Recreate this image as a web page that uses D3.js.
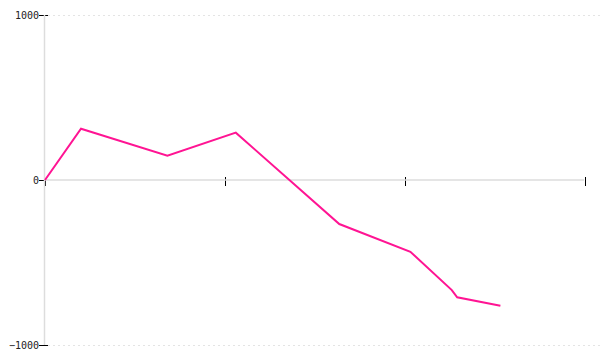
<!DOCTYPE html>
<html>
<head>
<meta charset="utf-8">
<script src="https://cdn.jsdelivr.net/npm/d3@7"></script>
<style>
  body { margin: 0; background: #fff; }
  svg { display: block; }
</style>
</head>
<body>
<svg id="chart" width="600" height="360"></svg>
<script>
// series
const xValues = [0, 0.2, 0.68, 1.06, 1.635, 2.03, 2.26, 2.29, 2.53];
const yValues = [0, 311, 147, 287, -267, -435, -667, -711, -762];
const xTicks = [0, 1, 2, 3];
const yTicks = [-1000, 0, 1000];

const width = 600;
const height = 360;
const margin = { top: 15, right: 15, bottom: 15, left: 45 };

const svg = d3.select('#chart');

const x = d3.scaleLinear().domain([0, 3]).range([margin.left, width - margin.right]);
const y = d3.scaleLinear().domain([-1000, 1000]).range([height - margin.bottom, margin.top]);

// y axis ticks and labels
const yAxis = svg.append('g')
  .attr('transform', `translate(${margin.left},0)`)
  .call(d3.axisLeft(y).tickValues(yTicks).tickFormat(d3.format('d')).tickSize(6).tickPadding(0));
yAxis.select('.domain').remove();
yAxis.selectAll('.tick line').attr('x1', d => d === 0 ? 0 : 3).attr('stroke', '#000');
yAxis.selectAll('.tick text')
  .attr('font-family', 'DejaVu Sans Mono')
  .attr('font-size', 10)
  .attr('fill', '#222');

// x axis ticks, no labels
const xAxis = svg.append('g')
  .attr('transform', `translate(0,${y(0)})`)
  .call(d3.axisBottom(x).tickValues(xTicks).tickSize(6).tickFormat(''));
xAxis.select('.domain').remove();
xAxis.selectAll('.tick line').attr('y1', d => d === 0 ? 0 : -3).attr('stroke', '#000');

// dotted grid at the extremes
svg.selectAll('.grid')
  .data([-1000, 1000])
  .join('line')
  .attr('x1', margin.left + 3)
  .attr('x2', width)
  .attr('y1', d => y(d) + 0.5)
  .attr('y2', d => y(d) + 0.5)
  .attr('stroke', '#e4e4e4')
  .attr('stroke-dasharray', '2,3');

// zero line and y axis line
svg.append('line')
  .attr('x1', margin.left)
  .attr('x2', width - margin.right - 1)
  .attr('y1', y(0))
  .attr('y2', y(0))
  .attr('stroke', '#ddd')
  .attr('stroke-width', 1.5);

svg.append('line')
  .attr('x1', margin.left - 0.5)
  .attr('x2', margin.left - 0.5)
  .attr('y1', y(1000))
  .attr('y2', y(-1000))
  .attr('stroke', '#ddd')
  .attr('stroke-width', 1.5);

// data line
const line = d3.line()
  .x((d, i) => x(xValues[i]))
  .y(d => y(d));

svg.append('path')
  .datum(yValues)
  .attr('d', line)
  .attr('fill', 'none')
  .attr('stroke', '#ff1493')
  .attr('stroke-width', 2);
</script>
</body>
</html>
